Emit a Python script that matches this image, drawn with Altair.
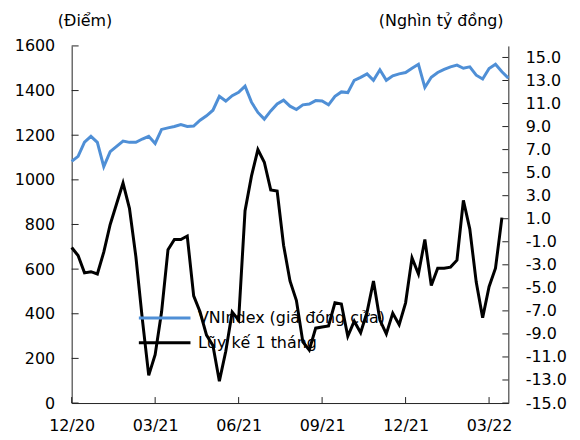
import altair as alt
import pandas as pd

# ---- data (weekly points) ----
vnindex = [1083, 1105, 1169, 1195, 1168, 1059, 1126, 1150, 1174, 1168,
           1168, 1183, 1195, 1163, 1226, 1233, 1239, 1248, 1239, 1241,
           1267, 1287, 1312, 1374, 1353, 1377, 1392, 1420, 1348, 1302,
           1272, 1309, 1340, 1357, 1330, 1315, 1336, 1340, 1355, 1353,
           1336, 1374, 1394, 1391, 1446, 1459, 1475, 1446, 1493, 1446,
           1466, 1475, 1481, 1500, 1518, 1414, 1460, 1481, 1495, 1506,
           1514, 1500, 1506, 1469, 1452, 1499, 1518, 1484, 1456]
luyke = [-1.5, -2.2, -3.7, -3.6, -3.8, -1.9, 0.5, 2.3, 4.1, 1.9,
         -2.3, -7.7, -12.6, -10.8, -7.1, -1.7, -0.8, -0.8, -0.5, -5.7,
         -7.1, -9.1, -10.0, -13.1, -10.5, -7.1, -7.8, 1.7, 4.7, 7.0,
         5.9, 3.5, 3.4, -1.3, -4.4, -6.1, -9.7, -10.4, -8.5, -8.4,
         -8.3, -6.3, -6.4, -9.2, -7.9, -8.9, -7.1, -4.4, -7.8, -9.0,
         -7.2, -8.2, -6.3, -2.4, -3.8, -0.8, -4.8, -3.3, -3.3, -3.2,
         -2.6, 2.6, 0.1, -4.5, -7.6, -4.9, -3.3, 1.1]
x_ticks = [0, 13, 26, 39, 52, 65]
x_labels = ["12/20", "03/21", "06/21", "09/21", "12/21", "03/22"]
left_ticks = [0, 200, 400, 600, 800, 1000, 1200, 1400, 1600]
right_ticks = [-15, -13, -11, -9, -7, -5, -3, -1, 1, 3, 5, 7, 9, 11, 13, 15]

name_blue = "VNIndex (giá đóng cửa)"
name_black = "Lũy kế 1 tháng"

W, H = 439, 359
FONT = "DejaVu Sans"
BLUE = "#4F8FD6"
AX = "#222222"

df_blue = pd.DataFrame({"i": list(range(len(vnindex))), "v": vnindex, "s": name_blue})
df_black = pd.DataFrame({"i": list(range(len(luyke))), "v": luyke, "s": name_black})

label_expr = " : ".join(
    [f"datum.value == {t} ? '{l}'" for t, l in zip(x_ticks, x_labels)] + ["''"]
)

xscale = alt.Scale(domain=[0, len(vnindex) - 1], nice=False, zero=False)
lscale = alt.Scale(domain=[0, 1600], nice=False)
rscale = alt.Scale(domain=[-15, 16], nice=False, zero=False)
cscale = alt.Scale(domain=[name_blue, name_black], range=[BLUE, "black"])

legend = alt.Legend(
    title=None, orient="none", legendX=77, legendY=257,
    symbolType="M-1.73,0H1.73", symbolSize=900, symbolStrokeWidth=3,
    labelOffset=17, rowPadding=0, padding=0, labelLimit=400,
)

blue_line = alt.Chart(df_blue).mark_line(strokeWidth=3).encode(
    x=alt.X("i:Q", scale=xscale, axis=alt.Axis(
        values=x_ticks, labelExpr=label_expr, title=None, ticks=False,
        labelPadding=15, labelFlush=False, grid=False)),
    y=alt.Y("v:Q", scale=lscale, axis=alt.Axis(
        orient="left", values=left_ticks, format="d", title="(Điểm)", titleAngle=0,
        titleX=13, titleY=-26, titleBaseline="middle", titleAlign="center",
        ticks=False, labelPadding=17, grid=False)),
    color=alt.Color("s:N", scale=cscale, legend=legend),
)

black_line = alt.Chart(df_black).mark_line(strokeWidth=3).encode(
    x=alt.X("i:Q", scale=xscale),
    y=alt.Y("v:Q", scale=rscale, axis=alt.Axis(
        orient="right", values=right_ticks,
        labelExpr="datum.value < 0 ? '-' + format(-datum.value, '.1f') : format(datum.value, '.1f')",
        title="(Nghìn tỷ đồng)", titleAngle=0, titleX=-68, titleY=-26,
        titleBaseline="middle", titleAlign="center", ticks=False,
        labelPadding=17, grid=False)),
    color=alt.Color("s:N", scale=cscale, legend=legend),
)

left_tick_marks = alt.Chart(pd.DataFrame({"t": left_ticks})).mark_rule(color=AX).encode(
    y=alt.Y("t:Q", scale=lscale, axis=None),
    x=alt.value(0), x2=alt.value(7),
)
right_tick_marks = alt.Chart(pd.DataFrame({"t": right_ticks})).mark_rule(color=AX).encode(
    y=alt.Y("t:Q", scale=rscale, axis=None),
    x=alt.value(W - 6), x2=alt.value(W),
)
x_tick_marks = alt.Chart(pd.DataFrame({"t": x_ticks})).mark_rule(color=AX).encode(
    x=alt.X("t:Q", scale=xscale),
    y=alt.value(H - 6), y2=alt.value(H),
)

chart = (
    alt.layer(blue_line, black_line, left_tick_marks, right_tick_marks, x_tick_marks)
    .resolve_scale(y="independent")
    .properties(width=W, height=H, padding={"left": 6, "top": 3, "right": 5, "bottom": 0})
    .configure_view(stroke=None)
    .configure_axis(
        labelFont=FONT, labelFontSize=16, labelColor="black",
        titleFont=FONT, titleFontSize=16, titleFontWeight="normal", titleColor="black",
        domainColor=AX, domainWidth=1,
    )
    .configure_legend(labelFont=FONT, labelFontSize=16, labelColor="black")
)

chart.save("out.html", embed_options={"renderer": "svg", "actions": False})
